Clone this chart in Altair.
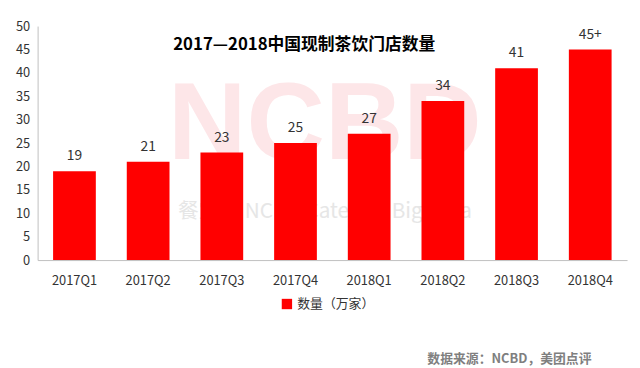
import altair as alt
import pandas as pd

quarters = ["2017Q1", "2017Q2", "2017Q3", "2017Q4", "2018Q1", "2018Q2", "2018Q3", "2018Q4"]
values = [19, 21, 23, 25, 27, 34, 41, 45]
labels = ["19", "21", "23", "25", "27", "34", "41", "45+"]
series = "数量（万家）"
title_text = "2017—2018中国现制茶饮门店数量"
source_text = "数据来源：NCBD，美团点评"
y_ticks = [0, 5, 10, 15, 20, 25, 30, 35, 40, 45, 50]

df = pd.DataFrame({"q": quarters, "v": values, "lab": labels, "s": [series] * len(quarters)})

FONT = "Noto Sans CJK SC"
W, H = 597, 237

x_enc = alt.X("q:N", sort=quarters, title=None,
              scale=alt.Scale(paddingInner=0.42, paddingOuter=0.21),
              axis=alt.Axis(labelAngle=0, ticks=False, domainColor="#bfbfbf",
                            labelFontSize=13, labelColor="#333333", labelPadding=15,
                            labelFont=FONT))
y_enc = alt.Y("v:Q", title=None,
              scale=alt.Scale(domain=[0, 50]),
              axis=alt.Axis(values=y_ticks, grid=False, ticks=False,
                            labelOverlap=False,
                            domainColor="#bfbfbf", labelFontSize=13, labelColor="#333333",
                            labelPadding=8, labelFont=FONT))

wm = alt.Chart(pd.DataFrame({"t": ["NCBD"]})).mark_text(
    font="Liberation Sans", fontWeight="bold", fontSize=110, color="#fde6e8", align="center", baseline="middle"
).encode(x=alt.value(291), y=alt.value(102), text="t:N")

wm2 = alt.Chart(pd.DataFrame({"t": ["餐宝典   NCBD Catering Big Data"]})).mark_text(
    font=FONT, fontSize=21, color="#e6e6e6", align="center", baseline="middle"
).encode(x=alt.value(291), y=alt.value(188), text="t:N")

bars = alt.Chart(df).mark_bar(color="#ff0000").encode(
    x=x_enc, y=y_enc,
    color=alt.Color("s:N", scale=alt.Scale(range=["#ff0000"]), title=None,
                    legend=alt.Legend(orient="none", legendX=246, legendY=275,
                                      symbolType="square", symbolSize=110,
                                      labelFontSize=13, labelColor="#333333", labelFont=FONT,
                                      symbolStrokeWidth=0))
)

text = alt.Chart(df).mark_text(baseline="bottom", dy=-8, fontSize=14, color="#333333", font=FONT).encode(
    x=x_enc, y=y_enc, text="lab:N"
)

title = alt.Chart(pd.DataFrame({"t": [title_text]})).mark_text(
    font=FONT, fontWeight="bold", fontSize=17, color="#000000", align="center", baseline="middle"
).encode(x=alt.value(270), y=alt.value(19), text="t:N")

src = alt.Chart(pd.DataFrame({"t": [source_text]})).mark_text(
    font=FONT, fontWeight="bold", fontSize=13, color="#7f7f7f", align="right", baseline="middle"
).encode(x=alt.value(561), y=alt.value(337), text="t:N")

chart = alt.layer(wm, wm2, bars, text, title, src).properties(
    width=W, height=H,
    autosize=alt.AutoSizeParams(type="none"),
    padding={"left": 30, "top": 16, "right": 5, "bottom": 107},
    background="white",
).configure_view(stroke=None).configure_axisY(labelOverlap=False)

chart.save("out.html", embed_options={"renderer": "svg", "actions": False})
